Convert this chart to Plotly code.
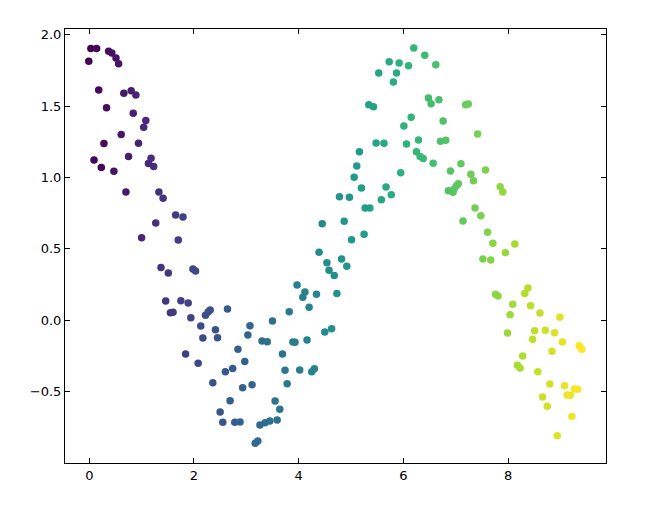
import plotly.graph_objects as go

# points, grouped roughly left to right
x_vals = [
    0.03, 0.14, -0.01, 0.37, 0.43, 0.51, 0.56, 0.18, 0.66, 0.80, 0.89, 0.33, 0.84, 1.08,
    1.04, 0.61, 0.28, 0.94, 0.75, 0.09, 1.18, 1.13, 1.23, 0.23, 0.47, 0.70, 1.33, 1.41,
    1.65, 1.79, 1.27, 1.00, 1.70,
    1.37, 1.51, 1.98, 2.03, 1.46, 1.75, 1.89, 1.55, 1.60, 1.94, 2.22, 2.27, 2.31, 2.64,
    2.13, 2.41, 2.17, 2.45, 1.84, 2.08, 2.84, 2.97, 2.60, 2.74, 2.36, 2.93, 2.69, 2.50,
    2.55, 2.78, 2.88,
    4.39, 4.54, 4.82, 4.92, 4.58, 4.68, 3.97, 4.12, 4.08, 4.34, 4.73, 4.20, 3.82, 3.07,
    3.50, 3.03, 3.30, 3.40, 3.89, 3.93, 4.16, 4.50, 4.63, 3.69, 3.74, 4.02, 4.25, 4.30,
    3.11, 3.78, 3.55, 3.64, 3.59, 3.45, 3.36, 3.26, 3.17, 3.22,
    6.20, 6.41, 5.73, 5.92, 6.10, 5.87, 5.53, 5.81, 5.34, 5.43, 6.48, 6.53, 6.15, 6.01,
    5.48, 5.63, 6.06, 6.29, 6.25, 6.32, 6.38, 5.16, 5.11, 5.06, 5.20, 5.67, 5.77, 5.95,
    4.78, 4.97, 5.58, 5.27, 5.36, 4.45, 4.87, 5.01, 5.25,
    6.62, 6.68, 7.19, 7.24, 6.76, 7.42, 6.71, 6.81, 6.57, 7.10, 6.90, 7.57, 7.29, 7.34,
    7.05, 7.01, 6.97, 6.95, 6.86, 7.85, 7.90, 7.37, 7.48, 7.14, 7.61, 7.71, 8.13,
    7.95, 7.52, 7.67, 8.38, 8.32, 7.76, 7.81, 8.09, 8.43, 8.04, 8.61, 8.99, 7.99, 8.51,
    8.71, 8.89, 8.47, 9.04, 9.36, 9.41, 8.84, 8.28, 8.18, 8.23, 8.57, 8.80, 9.08, 9.27,
    9.33, 9.13, 9.19, 8.66, 8.75, 9.22, 8.94,
]
y_vals = [
    1.905, 1.905, 1.815, 1.885, 1.873, 1.838, 1.798, 1.614, 1.591, 1.609, 1.579, 1.490, 1.451, 1.399,
    1.352, 1.301, 1.238, 1.240, 1.147, 1.123, 1.135, 1.098, 1.077, 1.070, 1.044, 0.899, 0.899, 0.855,
    0.738, 0.724, 0.682, 0.579, 0.563,
    0.369, 0.331, 0.360, 0.345, 0.135, 0.137, 0.121, 0.053, 0.056, 0.018, 0.035, 0.058, 0.072, 0.079,
    -0.040, -0.066, -0.124, -0.122, -0.236, -0.301, -0.203, -0.288, -0.360, -0.337, -0.437, -0.472, -0.563, -0.643,
    -0.715, -0.715, -0.713,
    0.476, 0.404, 0.430, 0.378, 0.350, 0.313, 0.247, 0.198, 0.161, 0.182, 0.187, 0.091, 0.060, -0.038,
    -0.005, -0.103, -0.145, -0.150, -0.152, -0.154, -0.138, -0.082, -0.059, -0.236, -0.350, -0.348, -0.360, -0.339,
    -0.451, -0.444, -0.565, -0.624, -0.699, -0.706, -0.718, -0.734, -0.862, -0.846,
    1.908, 1.857, 1.812, 1.803, 1.784, 1.733, 1.733, 1.670, 1.511, 1.497, 1.557, 1.518, 1.423, 1.362,
    1.242, 1.240, 1.235, 1.263, 1.181, 1.147, 1.133, 1.181, 1.081, 1.002, 0.927, 0.934, 0.880, 1.034,
    0.866, 0.862, 0.845, 0.787, 0.787, 0.677, 0.694, 0.565, 0.603,
    1.791, 1.546, 1.511, 1.516, 1.397, 1.306, 1.254, 1.261, 1.100, 1.097, 1.046, 1.053, 1.023, 0.978,
    0.957, 0.941, 0.920, 0.897, 0.908, 0.936, 0.899, 0.787, 0.733, 0.696, 0.617, 0.540, 0.535,
    0.474, 0.430, 0.423, 0.226, 0.187, 0.182, 0.170, 0.112, 0.102, 0.039, 0.051, 0.021, -0.089, -0.073,
    -0.070, -0.087, -0.133, -0.152, -0.178, -0.203, -0.217, -0.250, -0.315, -0.334, -0.360, -0.446, -0.458, -0.481,
    -0.484, -0.523, -0.526, -0.537, -0.603, -0.675, -0.809,
]

x_ticks = [0, 2, 4, 6, 8]
y_ticks = [-0.5, 0.0, 0.5, 1.0, 1.5, 2.0]

fig = go.Figure(go.Scatter(
    x=x_vals, y=y_vals, mode="markers",
    marker=dict(size=7.5, color=x_vals, colorscale="Viridis", line=dict(width=0)),
))

axis_style = dict(
    showgrid=False, zeroline=False, showline=True, mirror="ticks",
    linecolor="black", linewidth=1, ticks="inside", ticklen=5,
    tickcolor="black", tickwidth=1,
)

# page body has an 8px margin, so margins are shifted to keep the plot box in place
fig.update_layout(
    width=656, height=505,
    margin=dict(l=57, r=58, t=21, b=50),
    paper_bgcolor="white", plot_bgcolor="white",
    font=dict(family="DejaVu Sans", size=13, color="black"),
    showlegend=False,
    xaxis=dict(range=[-0.464, 9.872], tickvals=x_ticks, **axis_style),
    yaxis=dict(range=[-1.0, 2.041], tickvals=y_ticks, tickformat=".1f", **axis_style),
)

fig.write_html("out.html")
